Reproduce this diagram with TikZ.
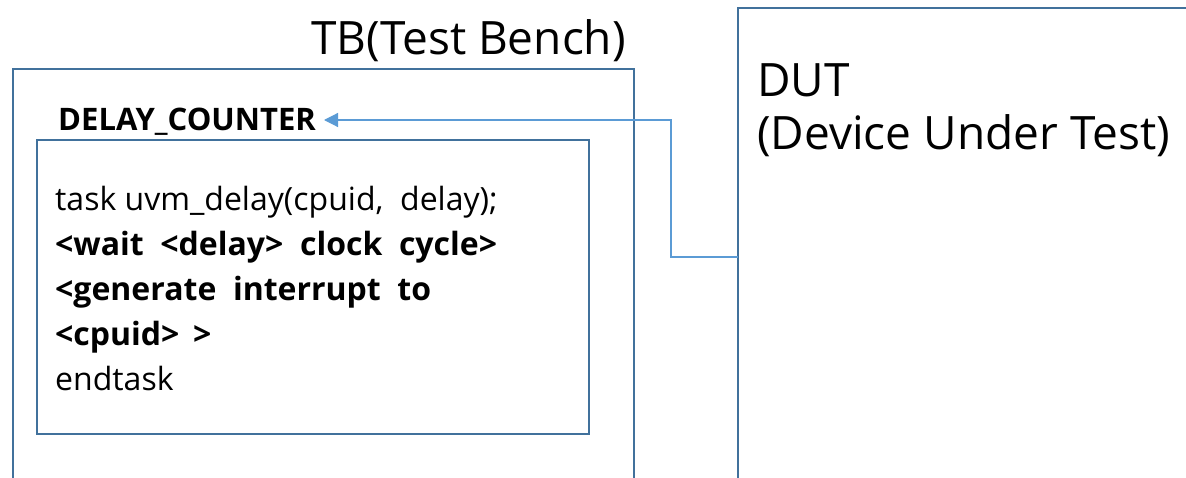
\documentclass[tikz,border=0pt]{standalone}
\usepackage{fontspec}
\setmainfont{Open Sans}
\usetikzlibrary{arrows.meta}
\definecolor{boxline}{HTML}{41719C}
\definecolor{linkline}{HTML}{5B9BD5}
\tikzset{
  frame/.style={draw=boxline, line width=2.2pt},
  link/.style={draw=linkline, line width=1.2pt, -{Triangle[length=14pt,width=14pt]}},
  title/.style={inner sep=0pt, font=\fontsize{46}{53}\selectfont},
  label/.style={inner sep=0pt, font=\fontsize{31}{36}\selectfont\bfseries},
  code/.style={inner sep=0pt, align=left, font=\fontsize{32}{45}\selectfont},
}
\begin{document}
\begin{tikzpicture}[x=1pt, y=-1pt]
  \useasboundingbox (0,0) rectangle (1186,478);
  % test bench frame, open at the bottom edge
  \draw[frame] (13,480) -- (13,69) -- (634,69) -- (634,480);
  \node[title, anchor=base east] (tbtitle) at (626,55) {TB(Test Bench)};
  % DUT frame, running off the right and bottom edges
  \draw[frame] (1190,8) -- (738,8) -- (738,480);
  \coordinate (dutport) at (738,257);
  % base anchor of a multi-line node sits on its last line
  \node[title, anchor=base west, align=left] (duttitle) at (757,150)
    {DUT\\(Device Under Test)};
  % delay counter block
  \node[label, anchor=base west] (counter) at (58,131) {DELAY\_COUNTER};
  \node[frame, anchor=north west, minimum width=552pt, minimum height=294pt,
        inner sep=0pt] (taskbox) at (36,139) {};
  \node[code, anchor=base west] (tasktext) at (55,390)
    {task uvm\_delay(cpuid,\ \ delay);\\
     \textbf{<wait\ \ <delay>\ \ clock\ \ cycle>}\\
     \textbf{<generate\ \ interrupt\ \ to}\\
     \textbf{<cpuid>\ \,>}\\
     endtask};
  % interrupt path from the DUT back to the counter
  \coordinate (bend1) at (671,257);
  \coordinate (bend2) at (671,120);
  \coordinate (tip) at (324,120);
  \draw[link] (dutport) -- (bend1) -- (bend2) -- (tip);
\end{tikzpicture}
\end{document}
